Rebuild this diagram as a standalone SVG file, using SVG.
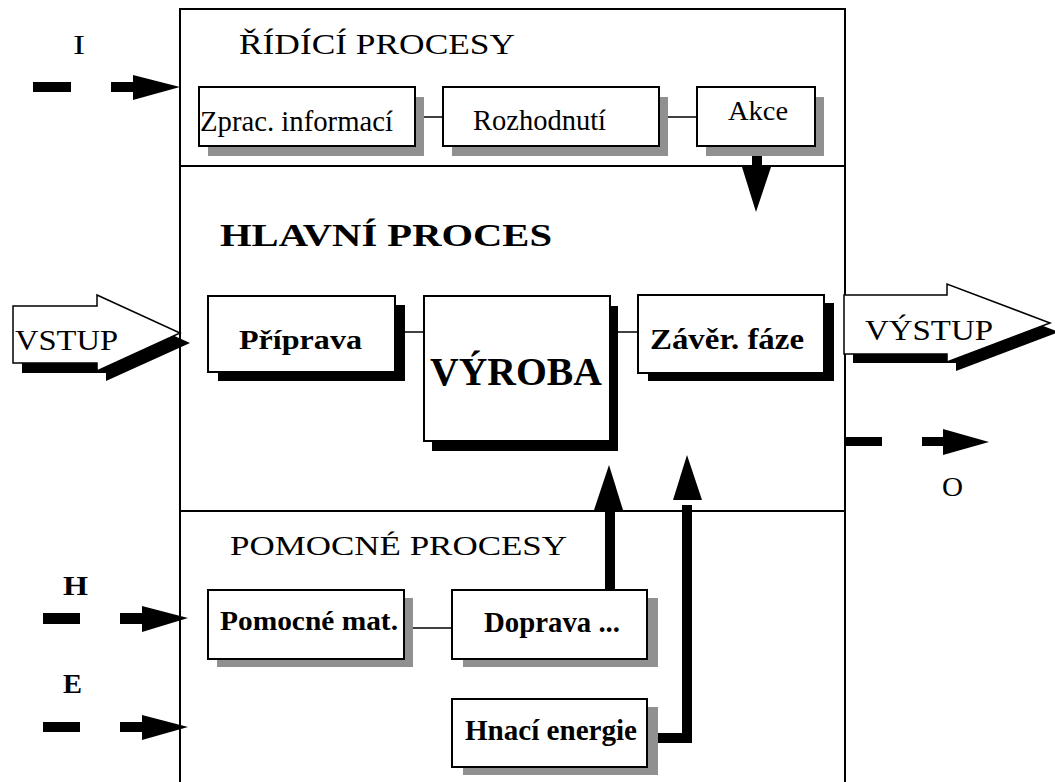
<svg xmlns="http://www.w3.org/2000/svg" width="1055" height="782" viewBox="0 0 1055 782">
<style>
text{font-family:"Liberation Serif","Times New Roman",serif;fill:#000}
.b{font-weight:bold}
.box{fill:#fff;stroke:#000;stroke-width:2}
.gs{fill:#909090}
.bs{fill:#000}
.ln{stroke:#000;stroke-width:1.5;fill:none}
.fr{fill:none;stroke:#000;stroke-width:2}
.blk{fill:#000}
</style>
<rect width="1055" height="782" fill="#fff"/>
<g id="frame">
<rect class="fr" x="180" y="9" width="665" height="800"/>
<line class="fr" x1="180" y1="166" x2="845" y2="166"/>
<line class="fr" x1="180" y1="511" x2="845" y2="511"/>
<text x="239" y="54" font-size="30" textLength="276" lengthAdjust="spacingAndGlyphs">ŘÍDÍCÍ PROCESY</text>
<text class="b" x="220" y="246" font-size="32" textLength="332" lengthAdjust="spacingAndGlyphs">HLAVNÍ  PROCES</text>
<text x="230" y="555" font-size="28" textLength="337" lengthAdjust="spacingAndGlyphs">POMOCNÉ PROCESY</text>
</g>
<g id="connectors">
<line class="ln" x1="415" y1="117" x2="443" y2="117"/>
<line class="ln" x1="659" y1="117" x2="697" y2="117"/>
<line class="ln" x1="395" y1="332" x2="424" y2="332"/>
<line class="ln" x1="610" y1="332" x2="638" y2="332"/>
<line class="ln" x1="404" y1="628" x2="452" y2="628"/>
<g id="arrow-I">
<rect class="blk" x="33" y="82" width="38" height="10"/>
<rect class="blk" x="111" y="82" width="24" height="10"/>
<polygon class="blk" points="133,75 180,87 133,100"/>
<text x="73" y="54" font-size="28" textLength="12" lengthAdjust="spacingAndGlyphs">I</text>
</g>
<g id="arrow-H">
<rect class="blk" x="43" y="613" width="37" height="11"/>
<rect class="blk" x="120" y="613" width="24" height="11"/>
<polygon class="blk" points="142,606 188,618 142,632"/>
<text class="b" x="63" y="595" font-size="28" textLength="25" lengthAdjust="spacingAndGlyphs">H</text>
</g>
<g id="arrow-E">
<rect class="blk" x="43" y="722" width="37" height="10"/>
<rect class="blk" x="120" y="722" width="24" height="10"/>
<polygon class="blk" points="142,715 188,727 142,740"/>
<text class="b" x="63" y="693" font-size="27" textLength="19" lengthAdjust="spacingAndGlyphs">E</text>
</g>
<g id="arrow-O">
<rect class="blk" x="844" y="437" width="38" height="9"/>
<rect class="blk" x="922" y="437" width="23" height="9"/>
<polygon class="blk" points="943,429 989,442 943,455"/>
<text x="942" y="496" font-size="27" textLength="21" lengthAdjust="spacingAndGlyphs">O</text>
</g>
<g id="arrow-akce">
<rect class="blk" x="752" y="146" width="10" height="23"/>
<polygon class="blk" points="742,167 771,167 756,212"/>
</g>
<g id="arrow-doprava">
<rect class="blk" x="605" y="505" width="10" height="86"/>
<polygon class="blk" points="594,510 623,510 609,465"/>
</g>
<g id="arrow-energie">
<polyline points="647,738 687,738 687,505" fill="none" stroke="#000" stroke-width="10"/>
<polygon class="blk" points="673,500 702,500 687,455"/>
</g>
</g>
<g id="vstup">
<polygon class="bs" points="22,316 106,316 106,305 190,343 106,381 106,373 22,373"/>
<polygon fill="#fff" stroke="#000" stroke-width="1.5" points="13,306 97,306 97,295 180,333 97,371 97,363 13,363"/>
<text x="15" y="350" font-size="29" textLength="103" lengthAdjust="spacingAndGlyphs">VSTUP</text>
</g>
<g id="vystup">
<polygon class="bs" points="853,304 956,304 956,293 1059,332 956,371 956,363 853,363"/>
<polygon fill="#fff" stroke="#000" stroke-width="1.5" points="844,295 947,295 947,284 1050,323 947,362 947,354 844,354"/>
<text x="865" y="340" font-size="29" textLength="128" lengthAdjust="spacingAndGlyphs">VÝSTUP</text>
</g>
<g id="zprac">
<rect class="gs" x="208" y="97" width="216" height="59"/>
<rect class="box" x="199" y="87" width="216" height="59"/>
<text x="200" y="131" font-size="30" textLength="193" lengthAdjust="spacingAndGlyphs">Zprac. informací</text>
</g>
<g id="rozhodnuti">
<rect class="gs" x="452" y="97" width="216" height="59"/>
<rect class="box" x="443" y="87" width="216" height="59"/>
<text x="473" y="130" font-size="29" textLength="133" lengthAdjust="spacingAndGlyphs">Rozhodnutí</text>
</g>
<g id="akce">
<rect class="gs" x="706" y="97" width="118" height="59"/>
<rect class="box" x="697" y="87" width="118" height="59"/>
<text x="728" y="120" font-size="27" textLength="60" lengthAdjust="spacingAndGlyphs">Akce</text>
</g>
<g id="priprava">
<rect class="bs" x="218" y="305" width="187" height="76"/>
<rect class="box" x="208" y="296" width="187" height="76"/>
<text class="b" x="239" y="349" font-size="27" textLength="123" lengthAdjust="spacingAndGlyphs">Příprava</text>
</g>
<g id="vyroba">
<rect class="bs" x="432" y="306" width="186" height="145"/>
<rect class="box" x="424" y="296" width="186" height="145"/>
<text class="b" x="430" y="385" font-size="39" textLength="172" lengthAdjust="spacingAndGlyphs">VÝROBA</text>
</g>
<g id="zaver">
<rect class="bs" x="648" y="303" width="186" height="78"/>
<rect class="box" x="638" y="295" width="186" height="78"/>
<text class="b" x="650" y="349" font-size="29" textLength="154" lengthAdjust="spacingAndGlyphs">Závěr. fáze</text>
</g>
<g id="pomocne">
<rect class="gs" x="217" y="598" width="196" height="69"/>
<rect class="box" x="208" y="590" width="196" height="69"/>
<text class="b" x="220" y="630" font-size="27" textLength="178" lengthAdjust="spacingAndGlyphs">Pomocné mat.</text>
</g>
<g id="doprava">
<rect class="gs" x="463" y="598" width="195" height="69"/>
<rect class="box" x="452" y="590" width="195" height="69"/>
<text class="b" x="484" y="632" font-size="29" textLength="136" lengthAdjust="spacingAndGlyphs">Doprava ...</text>
</g>
<g id="hnaci">
<rect class="gs" x="463" y="707" width="195" height="68"/>
<rect class="box" x="452" y="699" width="195" height="68"/>
<text class="b" x="465" y="740" font-size="30" textLength="172" lengthAdjust="spacingAndGlyphs">Hnací energie</text>
</g>
</svg>
